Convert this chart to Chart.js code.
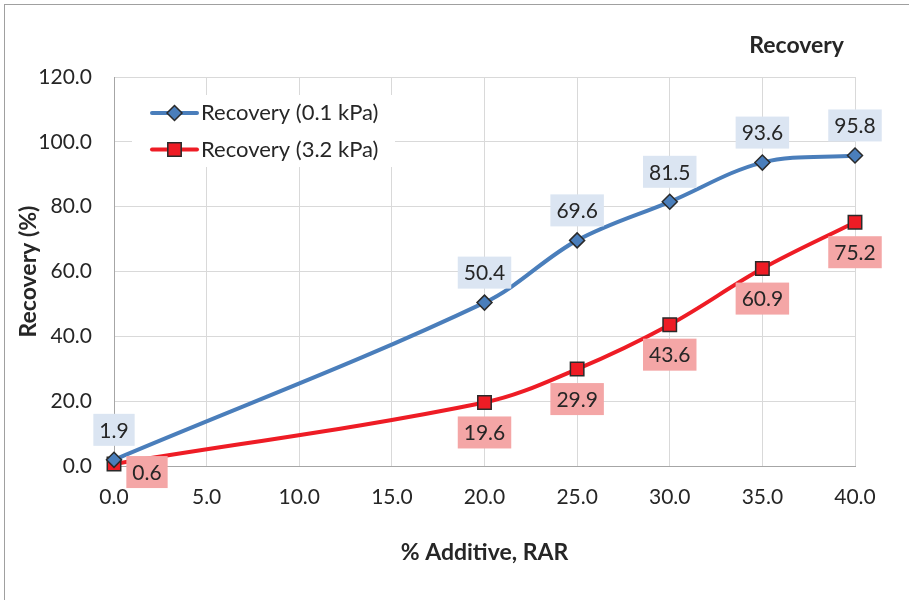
<!DOCTYPE html>
<html>
<head>
<meta charset="utf-8">
<title>Recovery</title>
<script src="https://cdn.jsdelivr.net/npm/chart.js@4.4.1/dist/chart.umd.min.js"></script>
<style>
  html, body { margin: 0; padding: 0; background: #fff; }
  #wrap { width: 909px; height: 600px; position: relative; }
</style>
</head>
<body>
<div id="wrap"><canvas id="recoveryChart"></canvas></div>
<script>
// values
const additive = [0, 20, 25, 30, 35, 40];
const recoveryLow = [1.9, 50.4, 69.6, 81.5, 93.6, 95.8];   // 0.1 kPa
const recoveryHigh = [0.6, 19.6, 29.9, 43.6, 60.9, 75.2];  // 3.2 kPa
const seriesNames = ['Recovery (0.1 kPa)', 'Recovery (3.2 kPa)'];
const xTicks = [0, 5, 10, 15, 20, 25, 30, 35, 40];
const yTicks = [0, 20, 40, 60, 80, 100, 120];

const chartTitle = 'Recovery';
const xTitle = '% Additive, RAR';
const yTitle = 'Recovery (%)';

const FONT = 'Lato, "Open Sans", sans-serif';
const BLUE = '#4a7ebb';
const RED = '#ee1c25';
const MARKER_EDGE = '#2a2a2a';
const TEXT = '#262626';

// label look per series: background, offset from the point
const labelStyle = [
  { bg: '#dbe5f2', dx: 0, dy: -30 },
  { bg: '#f4a6a6', dx: 0, dy: 30 }
];

function toPoints(ys) {
  return ys.map((y, i) => ({ x: additive[i], y: y }));
}

function drawMarker(ctx, style, r, x, y) {
  if (style === 'rect') {
    const s = r * Math.SQRT1_2;
    ctx.rect(x - s, y - s, 2 * s, 2 * s);
  } else {
    ctx.moveTo(x, y - r);
    ctx.lineTo(x + r, y);
    ctx.lineTo(x, y + r);
    ctx.lineTo(x - r, y);
    ctx.closePath();
  }
}

// extra draw: frame, title, in-plot legend and boxed data labels
const decorations = {
  id: 'decorations',
  beforeDatasetsDraw(chart) {
    const { ctx, chartArea } = chart;
    const left = chartArea.left + 18;
    const top = chartArea.top + 18;

    ctx.save();
    ctx.fillStyle = '#fff';
    ctx.fillRect(left, top, 263, 72);

    chart.data.datasets.forEach((ds, i) => {
      const y = top + 18 + i * 36.5;
      ctx.strokeStyle = ds.borderColor;
      ctx.lineWidth = 4;
      ctx.lineCap = 'round';
      ctx.beginPath();
      ctx.moveTo(left + 20, y);
      ctx.lineTo(left + 65, y);
      ctx.stroke();

      ctx.fillStyle = ds.pointBackgroundColor;
      ctx.strokeStyle = ds.pointBorderColor;
      ctx.lineWidth = ds.pointBorderWidth;
      ctx.beginPath();
      drawMarker(ctx, ds.pointStyle, ds.pointRadius, left + 42.5, y);
      ctx.fill();
      ctx.stroke();

      ctx.fillStyle = TEXT;
      ctx.font = '22px ' + FONT;
      ctx.textAlign = 'left';
      ctx.textBaseline = 'middle';
      ctx.fillText(ds.label, left + 69, y);
    });
    ctx.restore();
  },
  afterDatasetsDraw(chart) {
    const { ctx } = chart;
    ctx.save();
    ctx.font = '21px ' + FONT;
    ctx.textAlign = 'center';
    ctx.textBaseline = 'middle';
    chart.data.datasets.forEach((ds, i) => {
      const meta = chart.getDatasetMeta(i);
      meta.data.forEach((pt, j) => {
        const txt = ds.data[j].y.toFixed(1);
        let dx = labelStyle[i].dx, dy = labelStyle[i].dy;
        // first red label sits to the right of its point (it would fall below the axis)
        if (i === 1 && j === 0) { dx = 33; dy = 8; }
        const w = ctx.measureText(txt).width + 12;
        const h = 32;
        const cx = pt.x + dx, cy = pt.y + dy;
        ctx.fillStyle = labelStyle[i].bg;
        ctx.fillRect(cx - w / 2, cy - h / 2, w, h);
        ctx.fillStyle = TEXT;
        ctx.fillText(txt, cx, cy + 1);
      });
    });
    ctx.restore();
  },
  afterDraw(chart) {
    const { ctx } = chart;
    ctx.save();
    ctx.fillStyle = TEXT;
    ctx.font = 'bold 23px ' + FONT;
    ctx.textAlign = 'right';
    ctx.textBaseline = 'middle';
    ctx.fillText(chartTitle, 844, 46);

    ctx.strokeStyle = '#a0a0a0';
    ctx.lineWidth = 1;
    ctx.strokeRect(4.5, 4.5, 1000, 1000);
    ctx.restore();
  }
};

const ctx = document.getElementById('recoveryChart').getContext('2d');

new Chart(ctx, {
  type: 'line',
  data: {
    datasets: [
      {
        label: seriesNames[0],
        data: toPoints(recoveryLow),
        borderColor: BLUE,
        borderWidth: 4,
        tension: 0.35,
        pointStyle: 'rectRot',
        pointRadius: 7.5,
        pointBackgroundColor: BLUE,
        pointBorderColor: MARKER_EDGE,
        pointBorderWidth: 1.5
      },
      {
        label: seriesNames[1],
        data: toPoints(recoveryHigh),
        borderColor: RED,
        borderWidth: 4,
        tension: 0.35,
        pointStyle: 'rect',
        pointRadius: 9.5,
        pointBackgroundColor: RED,
        pointBorderColor: MARKER_EDGE,
        pointBorderWidth: 1.5
      }
    ]
  },
  options: {
    responsive: true,
    maintainAspectRatio: false,
    animation: false,
    clip: false,
    layout: { padding: { left: 0, right: 54, top: 77, bottom: 0 } },
    scales: {
      x: {
        type: 'linear',
        min: 0,
        max: 40,
        afterBuildTicks: (scale) => { scale.ticks = xTicks.map(v => ({ value: v })); },
        afterFit: (scale) => { scale.height = 134; },
        grid: { color: '#d9d9d9', drawTicks: false },
        border: { color: '#a6a6a6' },
        ticks: {
          padding: 19,
          color: TEXT,
          font: { family: FONT, size: 21 },
          callback: (v) => Number(v).toFixed(1)
        },
        title: {
          display: true,
          text: xTitle,
          color: TEXT,
          font: { family: FONT, size: 23, weight: 'bold' },
          padding: { top: 0, bottom: 34 }
        }
      },
      y: {
        min: 0,
        max: 120,
        afterBuildTicks: (scale) => { scale.ticks = yTicks.map(v => ({ value: v })); },
        afterFit: (scale) => { scale.width = 114; },
        grid: { color: '#d9d9d9', drawTicks: false },
        border: { color: '#a6a6a6' },
        ticks: {
          padding: 22,
          color: TEXT,
          font: { family: FONT, size: 21 },
          callback: (v) => Number(v).toFixed(1)
        },
        title: {
          display: true,
          text: yTitle,
          color: TEXT,
          font: { family: FONT, size: 23, weight: 'bold' },
          padding: { top: 15, bottom: 0 }
        }
      }
    },
    plugins: {
      legend: { display: false },
      tooltip: { enabled: false }
    }
  },
  plugins: [decorations]
});
</script>
</body>
</html>
